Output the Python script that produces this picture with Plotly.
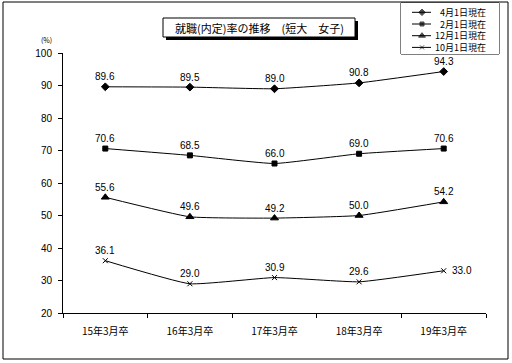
import plotly.graph_objects as go

categories = ["15年3月卒", "16年3月卒", "17年3月卒", "18年3月卒", "19年3月卒"]
series_names = ["4月1日現在", "2月1日現在", "12月1日現在", "10月1日現在"]
apr = [89.6, 89.5, 89.0, 90.8, 94.3]
feb = [70.6, 68.5, 66.0, 69.0, 70.6]
dec = [55.6, 49.6, 49.2, 50.0, 54.2]
octo = [36.1, 29.0, 30.9, 29.6, 33.0]
y_ticks = [20, 30, 40, 50, 60, 70, 80, 90, 100]
title_text = "就職(内定)率の推移　(短大　女子)"

W, H = 512, 363
L, R, T, B = 63, 486, 53, 313


def fx(x):
    return x / W


def fy(y):
    return 1 - y / H


FONT = "Noto Sans CJK JP"
NUMFONT = "Liberation Sans"
fig = go.Figure()
symbols = ["diamond", "square", "triangle-up", "x-thin"]
sizes = [6, 5, 7, 5]
all_vals = [apr, feb, dec, octo]
for name, vals, sym, sz in zip(series_names, all_vals, symbols, sizes):
    fig.add_trace(go.Scatter(
        x=categories, y=vals, name=name,
        mode="lines+markers",
        line=dict(color="black", width=1, shape="spline", smoothing=0.4),
        marker=dict(symbol=sym, size=sz, color="black",
                    line=dict(color="black", width=1)),
        cliponaxis=False, showlegend=False,
    ))
    for i, (c, v) in enumerate(zip(categories, vals)):
        side = (vals is octo and i == len(vals) - 1)
        fig.add_annotation(
            x=c, y=v, text=f"{v:.1f}", showarrow=False,
            xanchor="left" if side else "center", yanchor="middle",
            xshift=6 if side else 0, yshift=0 if side else 10,
            font=dict(family=NUMFONT, size=10, color="black"),
        )

# custom legend (pixel-space axes)
LX0, LX1, LY0, LY1 = 401, 499, 3, 54
rows = [12.3, 24.0, 35.7, 47.4]
for name, sym, sz, ry in zip(series_names, symbols, sizes, rows):
    fig.add_trace(go.Scatter(
        x=[412, 422, 431], y=[ry, ry, ry], mode="lines+markers",
        line=dict(color="black", width=1),
        marker=dict(symbol=sym, size=[0, sz - 1, 0], color="black",
                    line=dict(color="black", width=1)),
        xaxis="x2", yaxis="y2", showlegend=False, hoverinfo="skip",
    ))
fig.add_annotation(xref="paper", yref="paper", x=fx(488), y=fy(29.8),
                   xanchor="right", yanchor="middle", align="right",
                   text="<br>".join(series_names), showarrow=False,
                   font=dict(family=FONT, size=9, color="black"))

fig.update_layout(
    width=W, height=H,
    margin=dict(l=0, r=0, t=0, b=0, autoexpand=False),
    paper_bgcolor="white", plot_bgcolor="white",
    font=dict(family=FONT, size=10, color="black"),
    showlegend=False,
    xaxis=dict(
        domain=[fx(L), fx(R)],
        showline=True, linecolor="black", linewidth=1,
        ticks="outside", ticklen=4, tickcolor="black", tickson="boundaries",
        showgrid=False, zeroline=False, range=[-0.5, 4.5],
        tickfont=dict(family=FONT, size=10), ticklabelstandoff=9,
        fixedrange=True,
    ),
    yaxis=dict(
        domain=[fy(B), fy(T)],
        range=[20, 100], tickvals=y_ticks,
        showline=True, linecolor="black", linewidth=1,
        ticks="outside", ticklen=4, tickcolor="black",
        showgrid=False, zeroline=False,
        tickfont=dict(family=NUMFONT, size=10),
        ticklabelstandoff=4,
    ),
    xaxis2=dict(domain=[fx(LX0), fx(LX1)], range=[LX0, LX1], visible=False,
                anchor="y2"),
    yaxis2=dict(domain=[fy(LY1), fy(LY0)], range=[LY1, LY0], visible=False,
                anchor="x2"),
)

# outer border
fig.add_shape(type="rect", xref="paper", yref="paper",
              x0=fx(3), x1=fx(508), y0=fy(359), y1=fy(2),
              line=dict(color="black", width=1))
# legend box
fig.add_shape(type="rect", xref="paper", yref="paper",
              x0=fx(LX0), x1=fx(LX1), y0=fy(LY1), y1=fy(LY0),
              line=dict(color="black", width=1), layer="below")
# title shadow + box
fig.add_shape(type="rect", xref="paper", yref="paper",
              x0=fx(166), x1=fx(358), y0=fy(40), y1=fy(21),
              line=dict(width=0), fillcolor="black")
fig.add_shape(type="rect", xref="paper", yref="paper",
              x0=fx(163), x1=fx(355), y0=fy(37), y1=fy(18),
              line=dict(color="black", width=1), fillcolor="white")
fig.add_annotation(xref="paper", yref="paper", x=fx(259), y=fy(28),
                   xanchor="center", yanchor="middle",
                   text=title_text, showarrow=False,
                   font=dict(family=FONT, size=11, color="black"))
fig.add_annotation(xref="paper", yref="paper", x=fx(46), y=fy(40),
                   xanchor="center", yanchor="middle",
                   text="(%)", showarrow=False,
                   font=dict(family=FONT, size=7, color="black"))

fig.write_html("out.html",
               post_script="document.body.style.margin='0';",
               config={"displayModeBar": False})
